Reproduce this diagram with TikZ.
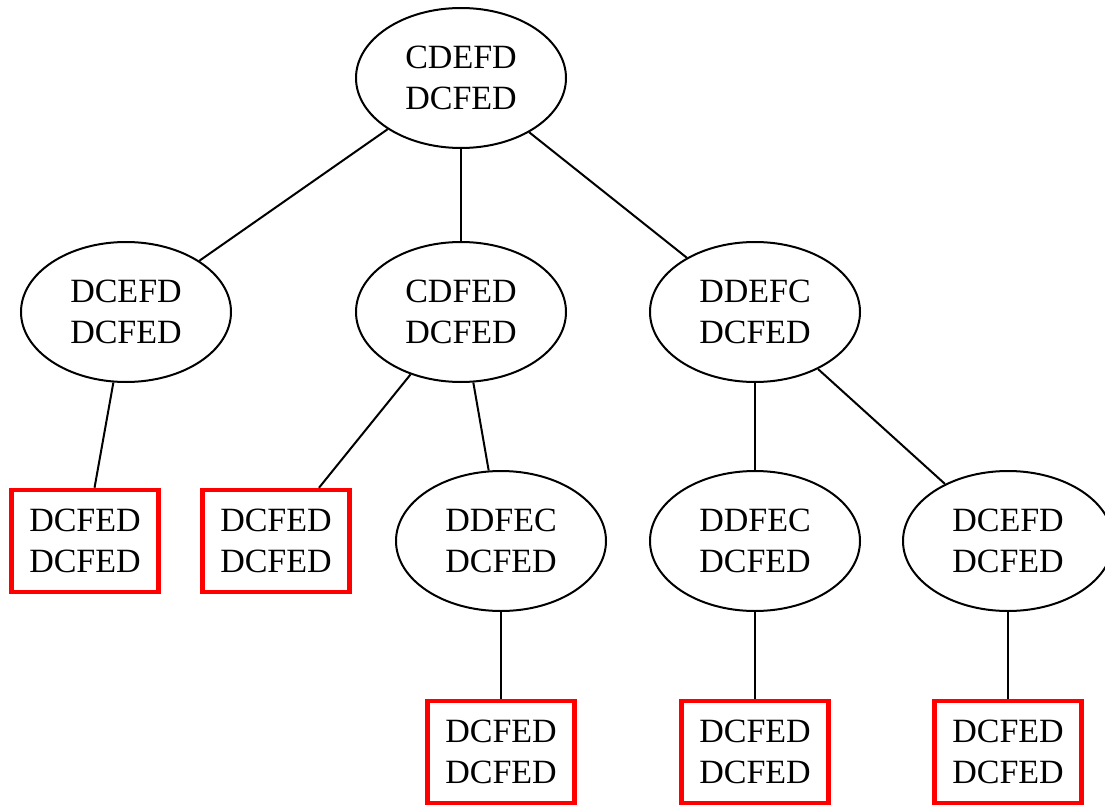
\documentclass[tikz,border=0pt]{standalone}
\usepackage{fontspec}
\setmainfont{Liberation Serif}
\usetikzlibrary{shapes.geometric}
\tikzset{
  state/.style={ellipse, draw=black, line width=2pt, minimum width=210pt, minimum height=140pt,
    inner sep=0pt, align=center, font=\fontsize{34}{41}\selectfont},
  leaf/.style={rectangle, draw=red, line width=4.5pt, minimum width=147pt, minimum height=102pt,
    inner sep=0pt, align=center, font=\fontsize{34}{41}\selectfont},
  edge/.style={draw=black, line width=2pt}
}
\begin{document}
\begin{tikzpicture}[x=1pt, y=-1pt]
\clip (0,0) rectangle (1105,805);
\fill[white] (0,0) rectangle (1105,805);

% root
\node[state] (r) at (461,78) {CDEFD\\DCFED};
% second level
\node[state] (a) at (126,312) {DCEFD\\DCFED};
\node[state] (b) at (461,312) {CDFED\\DCFED};
\node[state] (c) at (755,312) {DDEFC\\DCFED};
% third level
\node[leaf] (a1) at (85,541) {DCFED\\DCFED};
\node[leaf] (b1) at (276,541) {DCFED\\DCFED};
\node[state] (b2) at (501,541) {DDFEC\\DCFED};
\node[state] (c1) at (755,541) {DDFEC\\DCFED};
\node[state] (c2) at (1008,541) {DCEFD\\DCFED};
% fourth level
\node[leaf] (b21) at (501,752) {DCFED\\DCFED};
\node[leaf] (c11) at (755,752) {DCFED\\DCFED};
\node[leaf] (c21) at (1008,752) {DCFED\\DCFED};

\draw[edge] (r) -- (a);
\draw[edge] (r) -- (b);
\draw[edge] (r) -- (c);
\draw[edge] (a) -- (a1);
\draw[edge] (b) -- (b1);
\draw[edge] (b) -- (b2);
\draw[edge] (c) -- (c1);
\draw[edge] (c) -- (c2);
\draw[edge] (b2) -- (b21);
\draw[edge] (c1) -- (c11);
\draw[edge] (c2) -- (c21);
\end{tikzpicture}
\end{document}
